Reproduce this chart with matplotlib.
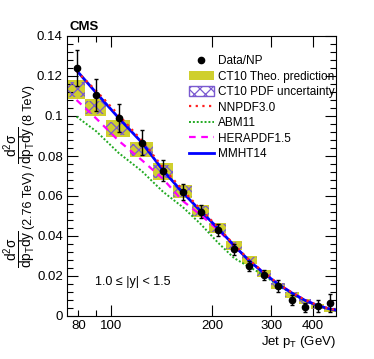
import numpy as np
import matplotlib
matplotlib.use("Agg")
import matplotlib.pyplot as plt
from matplotlib.patches import Patch
from matplotlib.lines import Line2D
from matplotlib.ticker import FixedLocator, MultipleLocator, FixedFormatter

plt.rcParams['font.family'] = ['Liberation Sans', 'DejaVu Sans']
plt.rcParams['mathtext.fontset'] = 'custom'
plt.rcParams['mathtext.rm'] = 'Liberation Sans'
plt.rcParams['mathtext.it'] = 'Liberation Sans'
plt.rcParams['mathtext.bf'] = 'Liberation Sans:bold'
plt.rcParams['hatch.linewidth'] = 0.9

# ---- data ----
bin_edges = [74, 84, 97, 114, 133, 153, 174, 196, 220, 245, 272, 300, 330, 362, 395, 430, 468]
pt_centers = [79, 90.5, 105.5, 123.5, 143, 163.5, 185, 208, 232.5, 258.5, 286, 315, 346, 378.5, 412.5, 449]
data_ratio = [0.124, 0.1105, 0.0988, 0.0867, 0.0727, 0.0620, 0.0522, 0.0430, 0.0334, 0.0250,
              0.0206, 0.0148, 0.0080, 0.0043, 0.0050, 0.0064]
data_err = [0.009, 0.008, 0.007, 0.0063, 0.0053, 0.004, 0.0033, 0.003, 0.0027, 0.0023,
            0.0025, 0.003, 0.0023, 0.0022, 0.003, 0.0044]

theo_center = [0.1133, 0.1042, 0.0938, 0.0832, 0.0722, 0.0622, 0.0526, 0.0438, 0.0352, 0.0280,
               0.0212, 0.0150, 0.0107, 0.0072, 0.0046, 0.0031]
theo_half = [0.0047, 0.0042, 0.0042, 0.0038, 0.0042, 0.0033, 0.0030, 0.0025, 0.0023, 0.0020,
             0.0018, 0.0017, 0.0015, 0.0014, 0.0012, 0.0011]
pdf_half = [0.0037, 0.0034, 0.0034, 0.0030, 0.0033, 0.0027, 0.0024, 0.0020, 0.0018, 0.0016,
            0.0014, 0.0013, 0.0012, 0.0011, 0.0009, 0.0008]

curve_pt = [79, 90.5, 105.5, 123.5, 143, 163.5, 185, 208, 232.5, 258.5, 286, 315, 346, 378.5, 412.5, 449, 468]
mmht14 = [0.1228, 0.1115, 0.0990, 0.0868, 0.0728, 0.0618, 0.0525, 0.0440, 0.0353, 0.0275,
          0.0213, 0.0158, 0.0115, 0.0078, 0.0052, 0.0035, 0.0029]
nnpdf30 = [0.1225, 0.1125, 0.1005, 0.0878, 0.0742, 0.0630, 0.0533, 0.0446, 0.0357, 0.0279,
           0.0216, 0.0161, 0.0117, 0.0080, 0.0054, 0.0036, 0.0030]
abm11 = [0.0997, 0.0923, 0.0815, 0.0725, 0.0621, 0.0545, 0.0460, 0.0368, 0.0290, 0.0245,
         0.0203, 0.0152, 0.0112, 0.0076, 0.0051, 0.0034, 0.0028]
herapdf15 = [0.1080, 0.0987, 0.0876, 0.0780, 0.0685, 0.0576, 0.0505, 0.0432, 0.0350, 0.0277,
             0.0216, 0.0161, 0.0117, 0.0080, 0.0054, 0.0036, 0.0030]

xtick_vals = [80, 90, 100, 200, 300, 400]
xtick_labels = ['80', '', '100', '200', '300', '400']
ytick_vals = [0, 0.02, 0.04, 0.06, 0.08, 0.1, 0.12, 0.14]
ytick_labels = ['0', '0.02', '0.04', '0.06', '0.08', '0.1', '0.12', '0.14']

# ---- figure ----
W, H = 374, 359
fig = plt.figure(figsize=(W / 100, H / 100), dpi=100)
ax = fig.add_axes([67 / W, (H - 316) / H, (336 - 67) / W, (316 - 36) / H])
ax.set_xscale('log')

edges = np.array(bin_edges)
lefts = edges[:-1]
widths = np.diff(edges)
tc = np.array(theo_center)
th = np.array(theo_half)
ph = np.array(pdf_half)

yellow = '#cfcf2e'
purple = '#7a5ad0'
ax.bar(lefts, 2 * th, bottom=tc - th, width=widths, align='edge',
       color=yellow, linewidth=0, zorder=1)
ax.bar(lefts, 2 * ph, bottom=tc - ph, width=widths, align='edge',
       facecolor='none', edgecolor=purple, hatch='xxx', linewidth=0, zorder=2)

ax.plot(curve_pt, abm11, color='#22aa22', lw=1.4, ls=(0, (1, 1)), zorder=3)
ax.plot(curve_pt, herapdf15, color='#ff00ff', lw=1.6, ls=(0, (3, 2.5)), zorder=3)
ax.plot(curve_pt, mmht14, color='#0000ff', lw=2.0, ls='-', zorder=4)
ax.plot(curve_pt, nnpdf30, color='#ff2020', lw=1.6, ls=(0, (1, 2)), zorder=5)

ax.errorbar(pt_centers, data_ratio, yerr=data_err, fmt='o', color='black', ms=4.5,
            elinewidth=1.0, capsize=1.5, capthick=1.0, zorder=6)

ax.set_xlim(74, 468)
ax.set_ylim(0, 0.14)

ax.xaxis.set_major_locator(FixedLocator(xtick_vals))
ax.xaxis.set_major_formatter(FixedFormatter(xtick_labels))
ax.xaxis.set_minor_locator(FixedLocator([]))
ax.yaxis.set_major_locator(FixedLocator(ytick_vals))
ax.yaxis.set_major_formatter(FixedFormatter(ytick_labels))
ax.yaxis.set_minor_locator(MultipleLocator(0.004))

ax.tick_params(which='both', direction='in', top=True, right=True, labelsize=9.5)
ax.tick_params(which='major', length=8, width=0.8)
ax.tick_params(which='minor', length=4, width=0.8)
ax.tick_params(axis='x', pad=3)
ax.tick_params(axis='y', pad=3)
for t, v in zip(ax.xaxis.get_major_ticks(), xtick_vals):
    if v < 100:
        t.tick1line.set_markersize(4)
        t.tick2line.set_markersize(4)
for s in ax.spines.values():
    s.set_linewidth(0.8)

# legend
handles = [
    Line2D([], [], marker='o', color='black', ls='none', ms=4.5),
    Patch(facecolor=yellow, edgecolor='none'),
    Patch(facecolor='white', edgecolor=purple, hatch='xxx', linewidth=1.0),
    Line2D([], [], color='#ff2020', lw=1.6, ls=(0, (1, 2))),
    Line2D([], [], color='#22aa22', lw=1.4, ls=(0, (1, 1))),
    Line2D([], [], color='#ff00ff', lw=1.6, ls=(0, (3, 2.5))),
    Line2D([], [], color='#0000ff', lw=2.0),
]
labels = ['Data/NP', 'CT10 Theo. prediction', 'CT10 PDF uncertainty', 'NNPDF3.0',
          'ABM11', 'HERAPDF1.5', 'MMHT14']
leg = ax.legend(handles, labels, loc='upper left', bbox_to_anchor=((189 - 67) / (336 - 67), (316 - 55) / 280),
                frameon=False, fontsize=8.5, handlelength=2.1, handleheight=0.9,
                labelspacing=0.3, handletextpad=0.35, borderaxespad=0, borderpad=0)

fig.text(70 / W, (H - 27) / H, 'CMS', fontsize=9.5, fontweight='bold', ha='left', va='center')
fig.text(95 / W, (H - 282) / H, '1.0 \u2264 |y| < 1.5', fontsize=9, ha='left', va='center')
fig.text(336 / W, (H - 342) / H, r'Jet p$_{\mathrm{T}}$ (GeV)', fontsize=9.5, ha='right', va='center')

# y-axis label assembled from pieces, stacked bottom to top
frac = r'$\dfrac{\mathrm{d}^{2}\sigma}{\mathrm{d}p_{\mathrm{T}}\mathrm{d}y}$'
pieces = [(frac, 9.8, 20), ('(2.76 TeV) /', 9.0, 29), (frac, 9.8, 20), ('(8 TeV)', 9.0, 29)]
fig.canvas.draw()
renderer = fig.canvas.get_renderer()
cursor = 268.0  # pixel from top
for s, fs, xc in pieces:
    t = fig.text(xc / W, 0.5, s, fontsize=fs, rotation=90, ha='center', va='center')
    bb = t.get_window_extent(renderer)
    h = bb.height
    t.set_position((xc / W, (H - (cursor - h / 2)) / H))
    cursor -= h + 1.0

fig.savefig('out.png', dpi=100)
